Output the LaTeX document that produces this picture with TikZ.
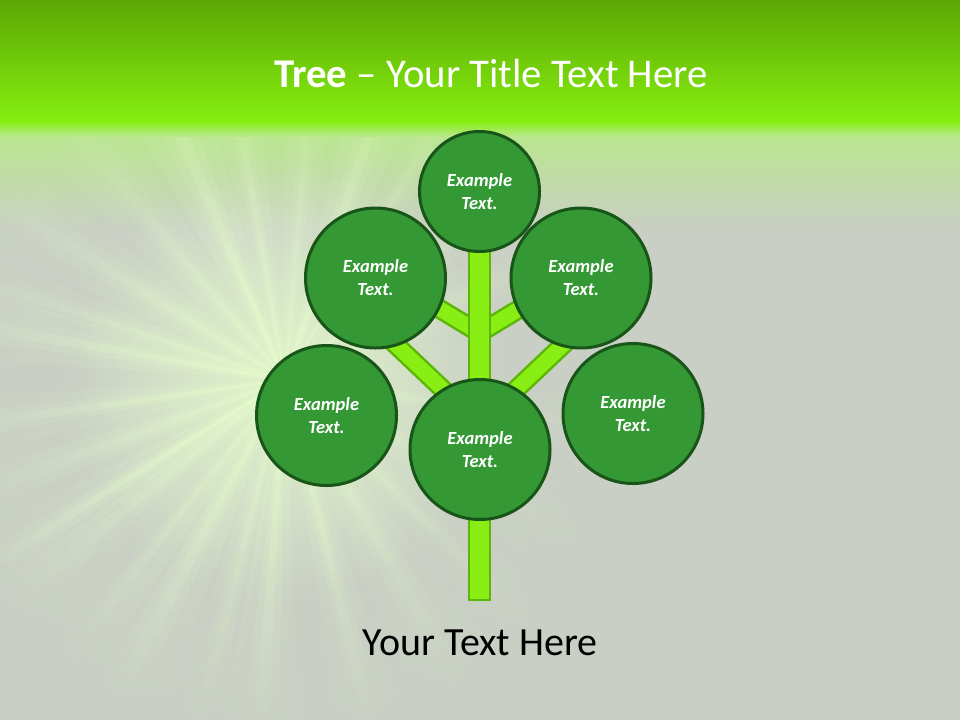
\documentclass[tikz,border=0pt]{standalone}
\usepackage{fontspec}
\setmainfont{Carlito}
\usetikzlibrary{fadings}
\definecolor{bggray}{RGB}{201,207,196}
\definecolor{topdark}{RGB}{92,168,5}
\definecolor{toplime}{RGB}{133,238,15}
\definecolor{palegreen}{RGB}{184,232,138}
\definecolor{leaf}{RGB}{52,152,52}
\definecolor{leafedge}{RGB}{25,85,25}
\definecolor{stem}{RGB}{136,238,20}
\definecolor{stemedge}{RGB}{92,182,10}
\definecolor{raycol}{RGB}{232,255,205}
\tikzfading[name=rayfade, inner color=transparent!0, outer color=transparent!100]
\begin{document}
\begin{tikzpicture}[x=1pt,y=-1pt,
  bubble/.style={circle, draw=leafedge, fill=leaf, line width=3pt, inner sep=0pt,
    text=white, align=center, font=\fontsize{18.5}{23}\selectfont\bfseries\itshape},
  bigbubble/.style={bubble, minimum size=140pt},
  smallbubble/.style={bubble, minimum size=120pt},
  branch/.style={draw=stemedge, line width=2.5pt, double=stem, double distance=15pt},
  trunkbox/.style={draw=stemedge, fill=stem, line width=2.5pt},
  ray/.style={fill=raycol, path fading=rayfade, fit fading=false,
    fading transform={shift={(285,380)}, scale=15}}]
\useasboundingbox (0,0) rectangle (960,720);
% background
\fill[bggray] (0,0) rectangle (960,720);
\shade[top color=palegreen, bottom color=bggray] (0,126) rectangle (960,230);
\coordinate (C) at (285,380);
\foreach \a/\w/\o in {-113/3/0.5, -100/2/0.4, -71/2.5/0.45, -59/1.5/0.3, -148/3/0.35,
  -162/2/0.4, -170/2.5/0.5, 172/2/0.45, 160/3/0.35, 148/2/0.6, 141/3/0.4, 128/2/0.35,
  118/3/0.45, 104/2/0.35, 94/2.5/0.45, 76/2/0.4, 60/3/0.3, 45/2/0.25, 28/3/0.2,
  8/2/0.2, -25/3/0.25, -40/2/0.25, -85/2/0.3, -130/3/0.3}
{
  \fill[ray, opacity=0.45*\o] (C) -- +(\a-2.5*\w:800) -- +(\a+2.5*\w:800) -- cycle;
  \fill[ray, opacity=0.6*\o] (C) -- +(\a-1.2*\w:800) -- +(\a+1.2*\w:800) -- cycle;
  \fill[ray, opacity=0.8*\o] (C) -- +(\a-0.5*\w:800) -- +(\a+0.5*\w:800) -- cycle;
}
\fill[raycol, opacity=0.8, path fading=rayfade] (C) circle (220);
\shade[top color=topdark, bottom color=toplime] (0,0) rectangle (960,122);
\shade[top color=toplime, bottom color=palegreen] (0,121) rectangle (960,136);
% title
\node[anchor=base, text=white, font=\fontsize{40.8}{49}\selectfont] (title) at (491,87)
  {\textbf{Tree} – Your Title Text Here};
% tree
\coordinate (sL) at (420,297);
\coordinate (sR) at (539,297);
\coordinate (sJ) at (479.5,333);
\coordinate (bL) at (375,325);
\coordinate (bR) at (584,325);
\coordinate (bJ) at (479.5,424);
\draw[branch] (sL) -- (sJ) -- (sR);
\draw[branch] (bL) -- (bJ) -- (bR);
\coordinate (trunkTop) at (469,240);
\coordinate (trunkBot) at (490,600);
\draw[trunkbox] (trunkTop) rectangle (trunkBot);
\node[smallbubble] (top) at (479.5,191.5) {Example\\Text.};
\node[bigbubble] (ul) at (375.5,278) {Example\\Text.};
\node[bigbubble] (ur) at (581,278) {Example\\Text.};
\node[bigbubble] (left) at (326.5,415.5) {Example\\Text.};
\node[bigbubble] (right) at (633,413.5) {Example\\Text.};
\node[bigbubble] (mid) at (480,449.5) {Example\\Text.};
% caption
\node[anchor=base, text=black, font=\fontsize{40}{48}\selectfont] (caption) at (480,655)
  {Your Text Here};
\end{tikzpicture}
\end{document}
